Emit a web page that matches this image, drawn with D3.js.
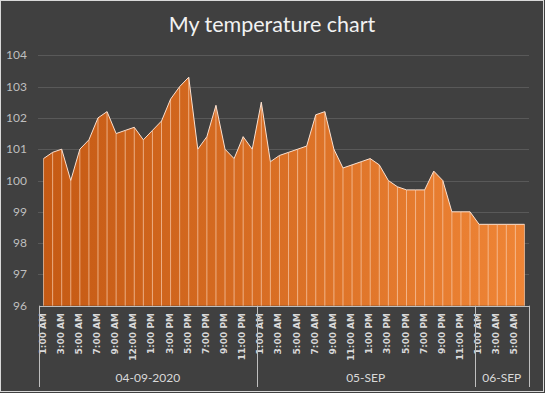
<!DOCTYPE html>
<html>
<head>
<meta charset="utf-8">
<script src="https://cdn.jsdelivr.net/npm/d3@7"></script>
<style>
  html, body { margin: 0; padding: 0; background: #404040; }
  svg { display: block; }
</style>
</head>
<body>
<div id="chart"></div>
<script>
// hourly readings, one label per hour (only every other one is shown)
const day1Times = ["1:00 AM","2:00 AM","3:00 AM","4:00 AM","5:00 AM","6:00 AM","7:00 AM","8:00 AM",
  "9:00 AM","10:00 AM","12:00 AM","12:00 PM","1:00 PM","2:00 PM","3:00 PM","4:00 PM","5:00 PM",
  "6:00 PM","7:00 PM","8:00 PM","9:00 PM","10:00 PM","11:00 PM","12:00 AM"];
const day2Times = ["1:00 AM","2:00 AM","3:00 AM","4:00 AM","5:00 AM","6:00 AM","7:00 AM","8:00 AM",
  "9:00 AM","10:00 AM","11:00 AM","12:00 PM","1:00 PM","2:00 PM","3:00 PM","4:00 PM","5:00 PM",
  "6:00 PM","7:00 PM","8:00 PM","9:00 PM","10:00 PM","11:00 PM","12:00 AM"];
const day3Times = ["1:00 AM","2:00 AM","3:00 AM","4:00 AM","5:00 AM","6:00 AM"];

const days = ["04-09-2020", "05-SEP", "06-SEP"];
const dayTimes = [day1Times, day2Times, day3Times];

const temps = [
  100.7, 100.9, 101.0, 100.0, 101.0, 101.3, 102.0, 102.2, 101.5, 101.6, 101.7, 101.3,
  101.6, 101.9, 102.6, 103.0, 103.3, 101.0, 101.4, 102.4, 101.0, 100.7, 101.4, 101.0,
  102.5, 100.6, 100.8, 100.9, 101.0, 101.1, 102.1, 102.2, 101.0, 100.4, 100.5, 100.6,
  100.7, 100.5, 100.0, 99.8, 99.7, 99.7, 99.7, 100.3, 100.0, 99.0, 99.0, 99.0,
  98.6, 98.6, 98.6, 98.6, 98.6, 98.6
];

const yTicks = [96, 97, 98, 99, 100, 101, 102, 103, 104];

// flatten categories
const categories = [];
dayTimes.forEach((list, d) => list.forEach(t => categories.push({ day: d, time: t })));

const W = 545, H = 393;
const plot = { left: 39, right: 529, top: 55.3, bottom: 305.7 };

const svg = d3.select("#chart").append("svg")
  .attr("width", W)
  .attr("height", H);

// chart background + border
svg.append("rect")
  .attr("x", 0.5).attr("y", 0.5)
  .attr("width", W - 2).attr("height", H - 2)
  .attr("fill", "#404040")
  .attr("stroke", "#d9d9d9");

const x = d3.scaleBand()
  .domain(d3.range(categories.length))
  .range([plot.left, plot.right]);
const cx = i => x(i) + x.bandwidth() / 2;

const y = d3.scaleLinear()
  .domain([96, 104])
  .range([plot.bottom, plot.top]);

// title
svg.append("text")
  .attr("x", 272)
  .attr("y", 32)
  .attr("text-anchor", "middle")
  .attr("font-family", "Lato, sans-serif")
  .attr("font-size", 21.5)
  .attr("fill", "#f2f2f2")
  .text("My temperature chart");

// gridlines
svg.append("g")
  .selectAll("line")
  .data(yTicks.slice(1))
  .enter().append("line")
  .attr("x1", 38).attr("x2", plot.right)
  .attr("y1", d => Math.round(y(d)) + 0.5)
  .attr("y2", d => Math.round(y(d)) + 0.5)
  .attr("stroke", "#595959");

// y labels
svg.append("g")
  .selectAll("text")
  .data(yTicks)
  .enter().append("text")
  .attr("x", 27)
  .attr("y", d => y(d) + 4)
  .attr("text-anchor", "end")
  .attr("font-family", "Lato, sans-serif")
  .attr("font-size", 12)
  .attr("fill", "#bfbfbf")
  .text(d => d);

// area gradient
const grad = svg.append("defs").append("linearGradient")
  .attr("id", "areaFill")
  .attr("gradientUnits", "userSpaceOnUse")
  .attr("x1", plot.left).attr("x2", plot.right)
  .attr("y1", 0).attr("y2", 0);
grad.append("stop").attr("offset", "0%").attr("stop-color", "#c55a14");
grad.append("stop").attr("offset", "100%").attr("stop-color", "#ef8536");

const area = d3.area()
  .x((d, i) => cx(i))
  .y0(plot.bottom)
  .y1(d => y(d));

svg.append("path")
  .datum(temps)
  .attr("d", area)
  .attr("fill", "url(#areaFill)");

// drop lines
svg.append("g")
  .selectAll("line")
  .data(temps)
  .enter().append("line")
  .attr("x1", (d, i) => cx(i))
  .attr("x2", (d, i) => cx(i))
  .attr("y1", d => y(d))
  .attr("y2", plot.bottom)
  .attr("stroke", "#f8cbad")
  .attr("stroke-opacity", 0.8)
  .attr("stroke-width", 0.9);

// top outline
const line = d3.line()
  .x((d, i) => cx(i))
  .y(d => y(d));

svg.append("path")
  .datum(temps)
  .attr("d", line)
  .attr("fill", "none")
  .attr("stroke", "#fbe0cf")
  .attr("stroke-width", 1);

// category axis
svg.append("line")
  .attr("x1", plot.left).attr("x2", plot.right)
  .attr("y1", Math.round(plot.bottom) + 0.5)
  .attr("y2", Math.round(plot.bottom) + 0.5)
  .attr("stroke", "#bfbfbf");

// time labels, every other hour
svg.append("g")
  .selectAll("text")
  .data(categories.map((c, i) => ({ ...c, i })).filter(c => c.i % 2 === 0))
  .enter().append("text")
  .attr("transform", d => `translate(${cx(d.i) - 1},313) rotate(-90)`)
  .attr("text-anchor", "end")
  .attr("dominant-baseline", "central")
  .attr("font-family", "DejaVu Sans, sans-serif")
  .attr("font-weight", "bold")
  .attr("font-size", 9)
  .attr("fill", "#d9d9d9")
  .text(d => d.time);

// day groups: separators + labels
let start = 0;
const dayBounds = dayTimes.map((list, d) => {
  const b = { name: days[d], from: start, to: start + list.length - 1 };
  start += list.length;
  return b;
});

const sepX = [x(0)].concat(dayBounds.map(b => x(b.to) + x.bandwidth()));
svg.append("g")
  .selectAll("line")
  .data(sepX)
  .enter().append("line")
  .attr("x1", d => Math.round(d) + 0.5)
  .attr("x2", d => Math.round(d) + 0.5)
  .attr("y1", plot.bottom)
  .attr("y2", 387)
  .attr("stroke", "#bfbfbf");

svg.append("g")
  .selectAll("text")
  .data(dayBounds)
  .enter().append("text")
  .attr("x", b => (x(b.from) + x(b.to) + x.bandwidth()) / 2)
  .attr("y", 382)
  .attr("text-anchor", "middle")
  .attr("font-family", "Lato, sans-serif")
  .attr("font-size", 12)
  .attr("fill", "#d9d9d9")
  .text(b => b.name);
</script>
</body>
</html>
